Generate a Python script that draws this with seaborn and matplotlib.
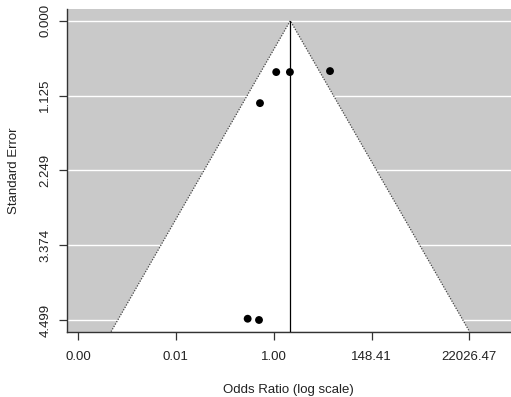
import numpy as np
import pandas as pd
import matplotlib
matplotlib.use("Agg")
import matplotlib.pyplot as plt
import seaborn as sns

# Study effects (log odds ratios) and their standard errors
log_or = [0.13, 0.83, 2.88, -0.70, -1.33, -0.75]
std_err = [0.772, 0.772, 0.757, 1.239, 4.48, 4.499]

# Pooled estimate (log scale)
pooled = 0.85

# Axis ticks
x_ticks = [-10, -5, 0, 5, 10]
x_tick_labels = ["0.00", "0.01", "1.00", "148.41", "22026.47"]
y_ticks = [0.000, 1.125, 2.249, 3.374, 4.499]
y_tick_labels = ["0.000", "1.125", "2.249", "3.374", "4.499"]

sns.set_style("ticks")
plt.rcParams["font.family"] = ["Liberation Sans", "DejaVu Sans"]

df = pd.DataFrame({"yi": log_or, "sei": std_err})

fig = plt.figure(figsize=(5.11, 3.97), dpi=100)
ax = fig.add_axes([0.1305, 0.1645, 0.8695, 0.8128])

y_top = -0.176
y_bot = 4.675
ax.set_xlim(-10.58, 12.13)
ax.set_ylim(y_bot, y_top)
ax.set_facecolor("#c9c9c9")

# Horizontal reference lines
for t in y_ticks:
    ax.axhline(t, color="white", lw=1.0, zorder=1)

# Pseudo-confidence funnel
lo = pooled - 1.96 * y_bot
hi = pooled + 1.96 * y_bot
ax.fill([lo, pooled, hi], [y_bot, 0, y_bot], color="white", zorder=2, lw=0)
ax.plot([lo, pooled, hi], [y_bot, 0, y_bot], color="#444444", lw=0.9,
        ls=(0, (1, 1.2)), zorder=3)
ax.plot([pooled, pooled], [0, y_bot], color="black", lw=0.9, zorder=3)

sns.scatterplot(data=df, x="yi", y="sei", ax=ax, color="black", s=32,
                edgecolor="none", zorder=4, legend=False)

ax.set_xticks(x_ticks)
ax.set_xticklabels(x_tick_labels)
ax.set_yticks(y_ticks)
ax.set_yticklabels(y_tick_labels, rotation=90, va="center")
ax.tick_params(axis="both", length=6, width=0.9, color="#333333",
               labelsize=9.5, labelcolor="#222222", pad=5)
ax.tick_params(axis="x", pad=8)

for s in ["top", "right"]:
    ax.spines[s].set_visible(False)
for s in ["left", "bottom"]:
    ax.spines[s].set_color("#333333")
    ax.spines[s].set_linewidth(1.0)

ax.set_xlabel("Odds Ratio (log scale)", fontsize=9.5, color="#222222", labelpad=15)
ax.set_ylabel("Standard Error", fontsize=9.5, color="#222222", labelpad=14)

fig.savefig("out.png", dpi=100)
